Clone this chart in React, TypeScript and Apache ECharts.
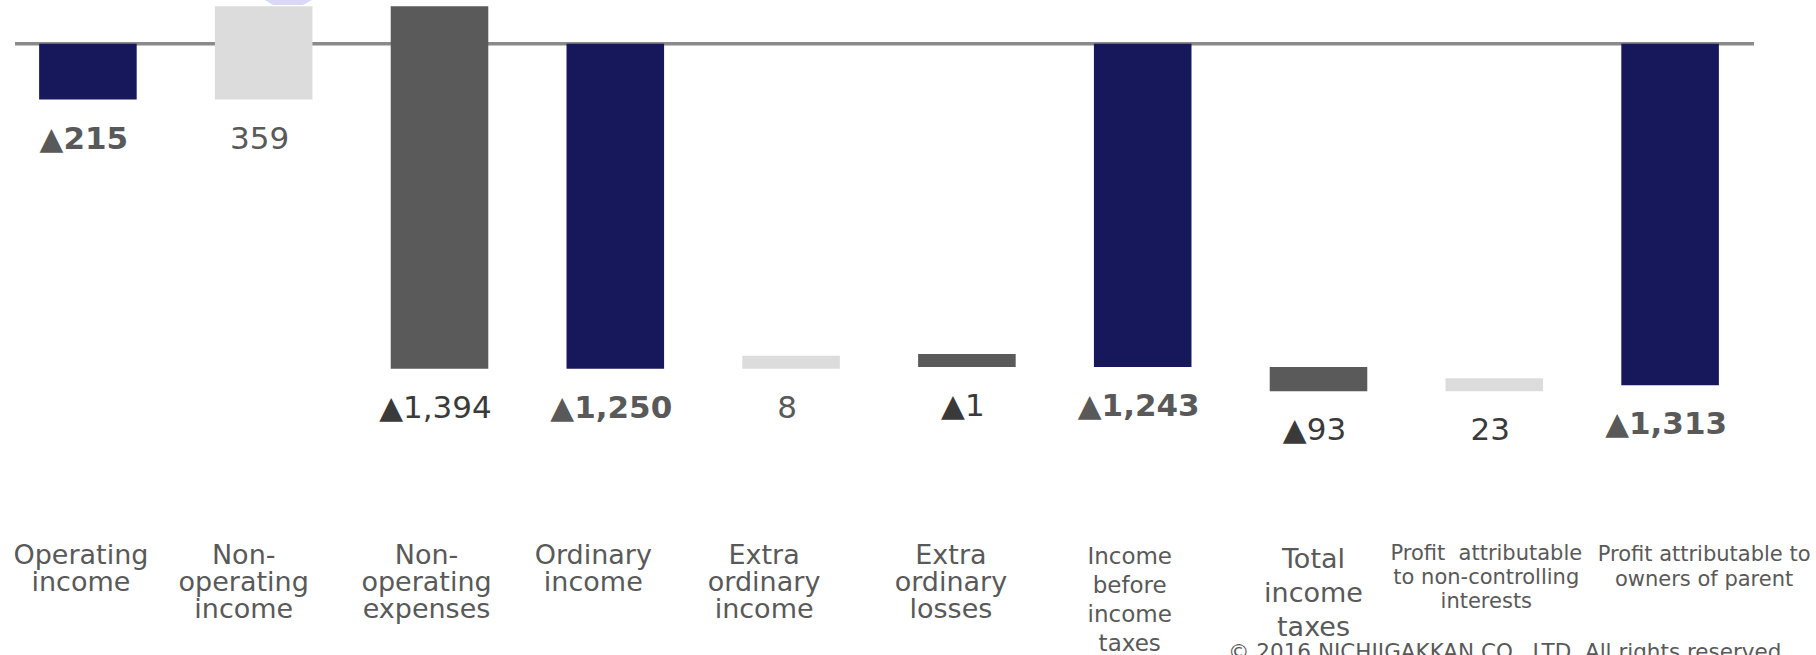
import React, { useEffect, useRef } from "react";
import * as echarts from "echarts";

// ---- data ----
const categories: string[] = [
  "Operating\nincome",
  "Non-\noperating\nincome",
  "Non-\noperating\nexpenses",
  "Ordinary\nincome",
  "Extra\nordinary\nincome",
  "Extra\nordinary\nlosses",
  "Income\nbefore\nincome\ntaxes",
  "Total\nincome\ntaxes",
  "Profit  attributable\nto non-controlling\ninterests",
  "Profit attributable to\nowners of parent",
];
const values: number[] = [-215, 359, -1394, -1250, 8, -1, -1243, -93, 23, -1313];
const kinds: string[] = ["total", "delta", "delta", "total", "delta", "delta", "total", "delta", "delta", "total"];
const copyright = "© 2016 NICHIIGAKKAN CO., LTD. All rights reserved.";

// ---- styles (layout only) ----
const FONT = '"DejaVu Sans", Verdana, sans-serif';
const NAVY = "#17175B";
const LIGHT = "#DCDCDC";
const DARK = "#5A5A5A";
const MIN_H = 13;
// font size / line height of each category label
const labelFont: [number, number][] = [
  [27, 27], [27, 27], [27, 27], [27, 27], [27, 27], [27, 27],
  [23, 29], [27, 34], [21, 24], [21, 25],
];
// horizontal nudge of each category label (px)
const labelShift: number[] = [-7, -20, -13, -22, -27, -16, -13, -5, -8, 34];

function fmt(v: number): string {
  return (v < 0 ? "▲" : "") + Math.abs(v).toLocaleString("en-US");
}

export default function App() {
  const ref = useRef<HTMLDivElement>(null);
  useEffect(() => {
    document.body.style.margin = "0";
    if (!ref.current) return;
    const chart = echarts.init(ref.current, undefined, { renderer: "svg" });

    // waterfall start/end derived from values
    let running = 0;
    const rows = values.map((v, i) => {
      let s: number, e: number;
      if (kinds[i] === "total") {
        s = 0;
        e = v;
      } else {
        s = running;
        e = running + v;
      }
      running = e;
      return [i, s, e, v];
    });

    const rich: Record<string, any> = {};
    labelFont.forEach(([fs, lh], i) => {
      const sh = labelShift[i];
      rich["l" + i] = {
        fontSize: fs,
        lineHeight: lh,
        color: "#595959",
        fontFamily: FONT,
        padding: sh >= 0 ? [0, 0, 0, 2 * sh] : [0, -2 * sh, 0, 0],
      };
    });

    chart.setOption({
      animation: false,
      grid: { left: -10, width: 1768, top: 2, height: 536 },
      xAxis: {
        type: "category",
        data: categories,
        position: "bottom",
        axisLine: { show: false },
        axisTick: { show: false },
        splitLine: { show: false },
        axisLabel: {
          interval: 0,
          hideOverlap: false,
          margin: 3,
          color: "#595959",
          fontFamily: FONT,
          formatter: (val: string, idx: number) =>
            val
              .split("\n")
              .map((l) => `{l${idx}|${l}}`)
              .join("\n"),
          rich,
        },
      },
      yAxis: {
        type: "value",
        min: -1900,
        max: 160,
        show: false,
        splitLine: { show: false },
      },
      series: [
        {
          type: "custom",
          z: 2,
          data: rows,
          encode: { x: 0, y: [1, 2] },
          renderItem: (params: any, api: any) => {
            const i = api.value(0);
            const s = api.value(1);
            const e = api.value(2);
            const v = api.value(3);
            const p1 = api.coord([i, s]);
            const p2 = api.coord([i, e]);
            const bw = api.size([1, 0])[0] * 0.555;
            let top = Math.min(p1[1], p2[1]);
            let bottom = Math.max(p1[1], p2[1]);
            if (bottom - top < MIN_H) {
              top = bottom - MIN_H;
            }
            const h = bottom - top;
            const isTotal = kinds[i] === "total";
            const fill = isTotal ? NAVY : v >= 0 ? LIGHT : DARK;
            const darkLabel = i === 2 || i === 5 || i === 7 || i === 8;
            return {
              type: "group",
              children: [
                {
                  type: "rect",
                  shape: { x: p1[0] - bw / 2, y: top, width: bw, height: h },
                  style: { fill },
                },
                {
                  type: "text",
                  x: p1[0] - 4,
                  y: bottom + 38,
                  style: {
                    text: fmt(v),
                    fill: darkLabel ? "#3a3a3a" : "#595959",
                    fontSize: 31,
                    fontWeight: isTotal ? "bold" : "normal",
                    fontFamily: FONT,
                    align: "center",
                    verticalAlign: "middle",
                  },
                },
              ],
            };
          },
        },
      ],
    });

    const y0 = chart.convertToPixel({ yAxisIndex: 0 }, 0) as number;
    chart.setOption({
      graphic: [
        {
          type: "line",
          z: 1,
          shape: { x1: 15, y1: y0, x2: 1754, y2: y0 },
          style: { stroke: "#8a8a8a", lineWidth: 3.5 },
        },
        {
          type: "polygon",
          z: 1,
          shape: { points: [[265, 0], [312, 0], [303, 5], [273, 5]] },
          style: { fill: "#D9D9F7" },
        },
        {
          type: "text",
          z: 1,
          x: 1228,
          y: 640,
          style: {
            text: copyright,
            fill: "#595959",
            fontSize: 21.5,
            fontFamily: FONT,
            align: "left",
            verticalAlign: "top",
          },
        },
      ],
    });

    return () => chart.dispose();
  }, []);
  return <div ref={ref} style={{ width: 1816, height: 655 }} />;
}
